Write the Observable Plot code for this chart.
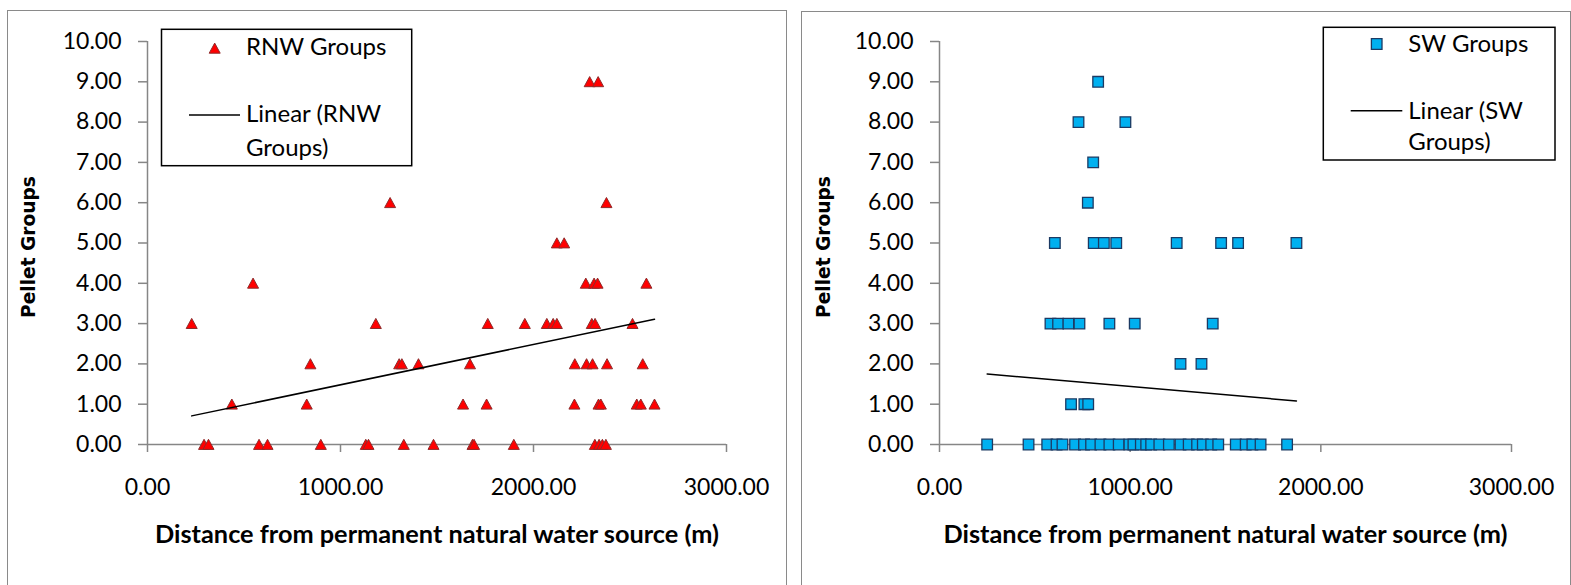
<!DOCTYPE html>
<html><head><meta charset="utf-8">
<script src="https://cdn.jsdelivr.net/npm/d3@7"></script>
<script src="https://cdn.jsdelivr.net/npm/@observablehq/plot@0.6"></script>
<style>
html,body{margin:0;padding:0;background:#fff;overflow:hidden;}
#root{position:relative;width:1571px;height:585px;overflow:hidden;font-family:Lato,sans-serif;}
.panel{position:absolute;box-sizing:border-box;border:1.5px solid #8a8a8a;}
.chart{position:absolute;top:0;}
#overlay{position:absolute;left:0;top:0;pointer-events:none;}
</style></head><body><div id="root"></div>
<script>
// ---------- data ----------
const xTicks = [0, 1000, 2000, 3000];
const yTicks = [0, 1, 2, 3, 4, 5, 6, 7, 8, 9, 10];
const xTitle = "Distance from permanent natural water source (m)";
const yTitle = "Pellet Groups";

// RNW Groups (left panel)
const rnwDistance = [
  2291, 2335,
  1257, 2378,
  2121, 2159,
  547, 2271, 2314, 2332, 2585,
  229, 1183, 1763, 1955, 2069, 2102, 2121, 2302, 2319, 2513,
  844, 1304, 1318, 1404, 1671, 2214, 2275, 2306, 2381, 2566,
  437, 825, 1635, 1757, 2212, 2337, 2349, 2535, 2556, 2627,
  293, 316, 578, 622, 898, 1131, 1145, 1328, 1482, 1684, 1692, 1898, 2318, 2340, 2357, 2375
];
const rnwPellets = [
  9, 9,
  6, 6,
  5, 5,
  4, 4, 4, 4, 4,
  3, 3, 3, 3, 3, 3, 3, 3, 3, 3,
  2, 2, 2, 2, 2, 2, 2, 2, 2, 2,
  1, 1, 1, 1, 1, 1, 1, 1, 1, 1,
  0, 0, 0, 0, 0, 0, 0, 0, 0, 0, 0, 0, 0, 0, 0, 0
];
const rnwTrendDistance = [229, 2627];
const rnwTrendPellets = [0.71, 3.11];

// SW Groups (right panel)
const swDistance = [
  832,
  729, 975,
  806,
  778,
  605, 809, 862, 927, 1244, 1477, 1566, 1872,
  582, 622, 676, 734, 891, 1024, 1433,
  1264, 1374,
  690, 760, 780,
  250, 467, 565, 614, 645, 711, 758, 795, 844, 891, 940, 996, 1017, 1056, 1084, 1110,
  1153, 1203, 1264, 1307, 1351, 1381, 1425, 1462, 1554, 1606, 1641, 1684, 1823
];
const swPellets = [
  9,
  8, 8,
  7,
  6,
  5, 5, 5, 5, 5, 5, 5, 5,
  3, 3, 3, 3, 3, 3, 3,
  2, 2,
  1, 1, 1,
  0, 0, 0, 0, 0, 0, 0, 0, 0, 0, 0, 0, 0, 0, 0, 0,
  0, 0, 0, 0, 0, 0, 0, 0, 0, 0, 0, 0, 0
];
const swTrendDistance = [250, 1872];
const swTrendPellets = [1.75, 1.08];

// ---------- styles ----------
const axisColor = "#868686";
const tickFont = "Lato";
const fmt = d3.format(".2f");

const triangleSymbol = {draw(ctx) { ctx.moveTo(0, -5.2); ctx.lineTo(5.5, 4.9); ctx.lineTo(-5.5, 4.9); ctx.closePath(); }};
const squareSymbol = {draw(ctx) { ctx.rect(-5.3, -5.3, 10.6, 10.6); }};

const rnw = rnwDistance.map((d, i) => ({d, p: rnwPellets[i]}));
const sw = swDistance.map((d, i) => ({d, p: swPellets[i]}));
const rnwTrend = rnwTrendDistance.map((d, i) => ({d, p: rnwTrendPellets[i]}));
const swTrend = swTrendDistance.map((d, i) => ({d, p: swTrendPellets[i]}));

function makeChart({width, marginLeft, marginRight, points, trend, symbol, fill, stroke, strokeWidth, yTitleDx}) {
  return Plot.plot({
    width, height: 585,
    marginLeft, marginRight, marginTop: 41, marginBottom: 141,
    x: {domain: [0, 3000]},
    y: {domain: [0, 10]},
    style: {fontFamily: tickFont, fontSize: "23px", color: "black", background: "none", overflow: "visible"},
    marks: [
      Plot.ruleY([0], {stroke: axisColor, strokeWidth: 1.5}),
      Plot.ruleX([0], {stroke: axisColor, strokeWidth: 1.5}),
      Plot.axisX({ticks: xTicks, tickFormat: fmt, tickSize: 8, tickPadding: 26, stroke: axisColor, strokeWidth: 1.5, fill: "black", label: null}),
      Plot.axisY({ticks: yTicks, tickFormat: fmt, tickSize: 9, tickPadding: 17, stroke: axisColor, strokeWidth: 1.5, fill: "black", label: null}),
      Plot.dot(points, {x: "d", y: "p", symbol, fill, stroke, strokeWidth}),
      Plot.line(trend, {x: "d", y: "p", stroke: "black", strokeWidth: 1.5}),
      Plot.text([xTitle], {text: d => d, frameAnchor: "bottom", textAnchor: "middle", dy: 98, fontFamily: "Lato", fontWeight: "bold", fontSize: 25.3, fill: "black"}),
      Plot.text([yTitle], {text: d => d, frameAnchor: "left", textAnchor: "middle", dx: yTitleDx, dy: 4, rotate: -90, fontFamily: "DejaVu Sans", fontWeight: "bold", fontSize: 18.6, fill: "black"})
    ]
  });
}

const root = document.getElementById("root");

const p1 = document.createElement("div"); p1.className = "panel";
Object.assign(p1.style, {left: "7px", top: "10px", width: "780px", height: "620px"});
const p2 = document.createElement("div"); p2.className = "panel";
Object.assign(p2.style, {left: "801px", top: "11px", width: "770px", height: "620px"});
root.append(p1, p2);

const c1 = makeChart({width: 790, marginLeft: 147, marginRight: 64, points: rnw, trend: rnwTrend,
  symbol: triangleSymbol, fill: "#ff0000", stroke: "#8e2b2b", strokeWidth: 1, yTitleDx: -118});
c1.classList.add("chart"); c1.style.left = "0px";
const c2 = makeChart({width: 781, marginLeft: 149, marginRight: 60, points: sw, trend: swTrend,
  symbol: squareSymbol, fill: "#00b0f0", stroke: "#1c3a63", strokeWidth: 1.3, yTitleDx: -115.5});
c2.classList.add("chart"); c2.style.left = "790px";
root.append(c1, c2);

// ---------- legends ----------
const svg = d3.select(root).append("svg").attr("id", "overlay").attr("width", 1571).attr("height", 585);
function legend(g, {box, marker, markerFill, markerStroke, markerStrokeWidth, markerPos, text1, text1Base, lineX, lineY, textX, text2, text2Base, text3Base}) {
  g.append("rect").attr("x", box[0]).attr("y", box[1]).attr("width", box[2]).attr("height", box[3])
    .attr("fill", "white").attr("stroke", "black").attr("stroke-width", 1.5);
  const path = d3.path(); marker.draw(path);
  g.append("path").attr("d", path.toString()).attr("transform", `translate(${markerPos[0]},${markerPos[1]})`)
    .attr("fill", markerFill).attr("stroke", markerStroke).attr("stroke-width", markerStrokeWidth);
  g.append("line").attr("x1", lineX[0]).attr("x2", lineX[1]).attr("y1", lineY).attr("y2", lineY)
    .attr("stroke", "black").attr("stroke-width", 1.5);
  const t = (s, y) => g.append("text").attr("x", textX).attr("y", y).attr("font-family", "Lato")
    .attr("font-size", 24).attr("fill", "black").text(s);
  t(text1, text1Base); t(text2, text2Base); t("Groups)", text3Base);
}
legend(svg.append("g"), {box: [161.5, 29.3, 250.2, 136.4], marker: triangleSymbol, markerFill: "#ff0000",
  markerStroke: "#8e2b2b", markerStrokeWidth: 1, markerPos: [214.7, 48.3], text1: "RNW Groups", text1Base: 55,
  lineX: [189, 240], lineY: 115, textX: 246, text2: "Linear (RNW", text2Base: 122.3, text3Base: 155.7});
legend(svg.append("g"), {box: [1323.3, 27.3, 231.7, 132.7], marker: squareSymbol, markerFill: "#00b0f0",
  markerStroke: "#1c3a63", markerStrokeWidth: 1.3, markerPos: [1376.7, 44], text1: "SW Groups", text1Base: 52.3,
  lineX: [1350.7, 1402.3], lineY: 110.7, textX: 1408.3, text2: "Linear (SW", text2Base: 119.3, text3Base: 150});
</script></body></html>
